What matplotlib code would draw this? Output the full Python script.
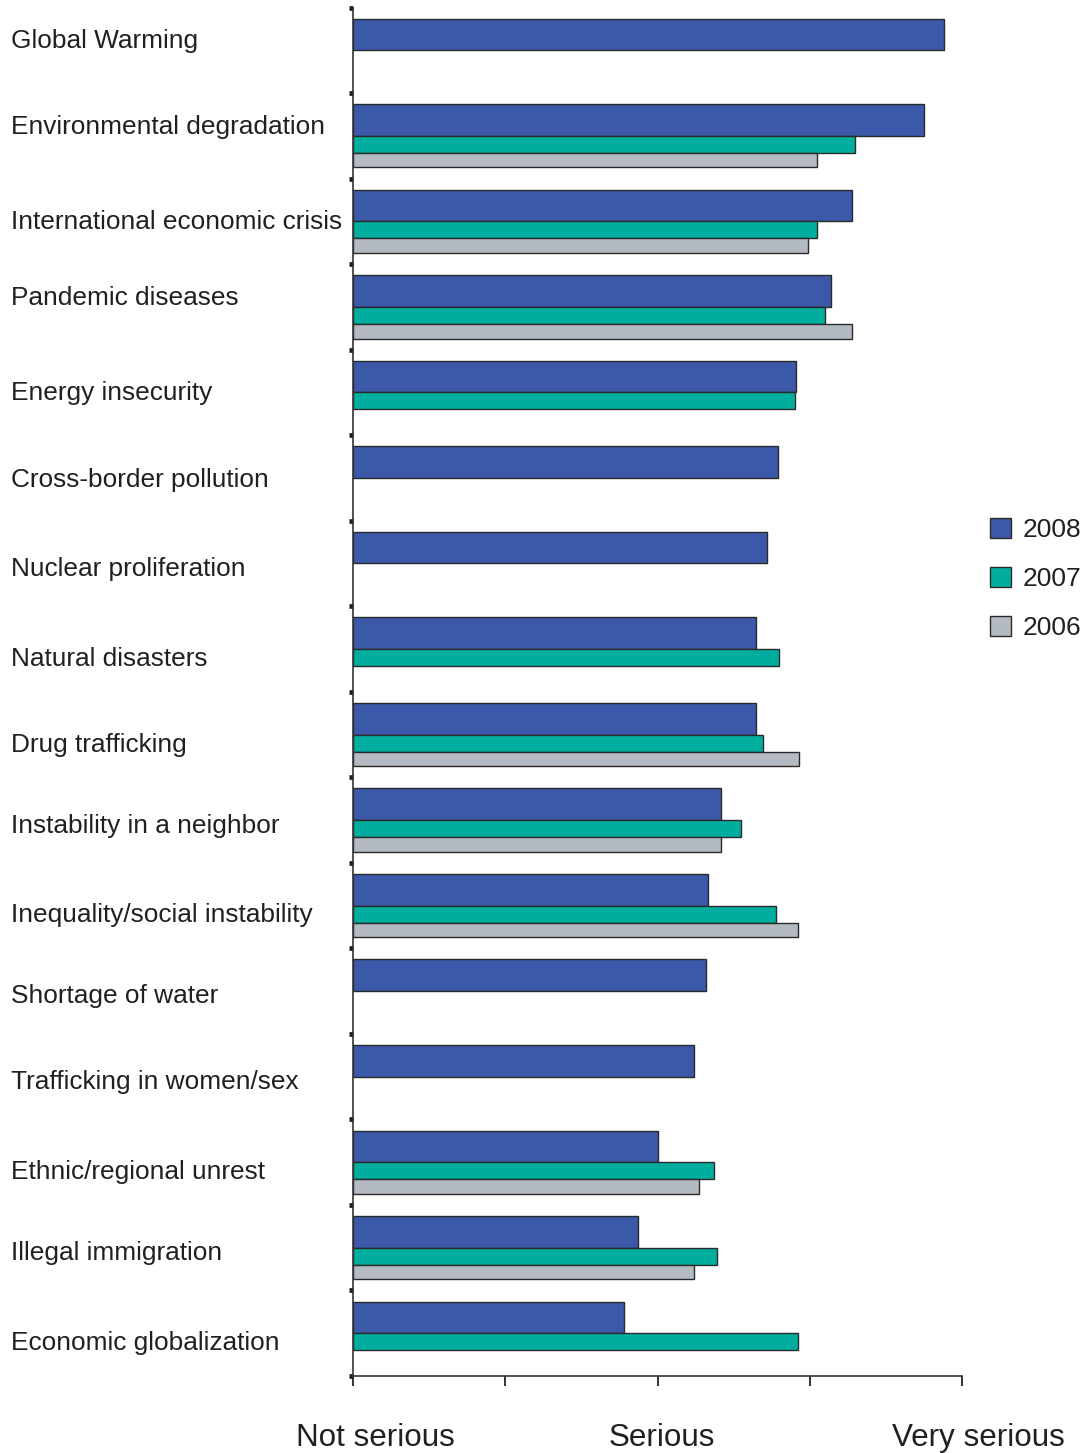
import numpy as np
import matplotlib
matplotlib.use("Agg")
import matplotlib.pyplot as plt
from matplotlib.transforms import blended_transform_factory

# ---- data -------------------------------------------------------------
categories = [
    "Global Warming",
    "Environmental degradation",
    "International economic crisis",
    "Pandemic diseases",
    "Energy insecurity",
    "Cross-border pollution",
    "Nuclear proliferation",
    "Natural disasters",
    "Drug trafficking",
    "Instability in a neighbor",
    "Inequality/social instability",
    "Shortage of water",
    "Trafficking in women/sex",
    "Ethnic/regional unrest",
    "Illegal immigration",
    "Economic globalization",
]
nan = np.nan
score_2008 = [4.88, 4.75, 4.28, 4.14, 3.91, 3.79, 3.72, 3.65,
              3.65, 3.42, 3.33, 3.32, 3.24, 3.00, 2.87, 2.78]
score_2007 = [nan, 4.30, 4.05, 4.10, 3.90, nan, nan, 3.80,
              3.69, 3.55, 3.78, nan, nan, 3.37, 3.39, 3.92]
score_2006 = [nan, 4.05, 3.99, 4.28, nan, nan, nan, nan,
              3.93, 3.42, 3.92, nan, nan, 3.27, 3.24, nan]
years = ["2008", "2007", "2006"]
scale_ticks = [1, 2, 3, 4, 5]
scale_labels = ["Not serious", "Serious", "Very serious"]

# ---- style / layout ---------------------------------------------------
colors = ["#3b59a8", "#00ae9f", "#b3bac1"]
edge = "#2a2a2a"
text_color = "#231f20"
bar_offsets = [0.13, 0.50, 0.70]
bar_heights = [0.37, 0.20, 0.17]
label_nudge = [-0.11, -0.10, 0.01, -0.10, 0.01, 0.02, 0.07, 0.12,
               0.12, 0.07, 0.11, 0.06, 0.06, 0.11, 0.06, 0.11]
scale_label_x = [1.15, 3.03, 5.11]

plt.rcParams["font.family"] = ["Liberation Sans", "DejaVu Sans"]

W, H = 1088, 1453
fig = plt.figure(figsize=(W / 100, H / 100), dpi=100)
ax = fig.add_axes([353 / W, 1 - 1376 / H, 609 / W, (1376 - 7.5) / H])

idx = np.arange(len(categories))
handles = []
for vals, col, off, h, yr in zip([score_2008, score_2007, score_2006],
                                 colors, bar_offsets, bar_heights, years):
    vals = np.asarray(vals, dtype=float)
    ok = ~np.isnan(vals)
    bc = ax.barh(idx[ok] + off, vals[ok] - 1, left=1, height=h, align="edge",
                 color=col, edgecolor=edge, linewidth=1.0, label=yr)
    handles.append(bc)

ax.set_xlim(1, 5)
ax.set_ylim(len(categories), 0)

for s in ("top", "right"):
    ax.spines[s].set_visible(False)
for s in ("left", "bottom"):
    ax.spines[s].set_color("#333333")
    ax.spines[s].set_linewidth(1.2)

ax.set_yticks(np.arange(len(categories) + 1))
ax.tick_params(axis="y", direction="out", length=3.2, width=3.4,
               color="#1e1e1e", labelleft=False)
ax.set_xticks(scale_ticks)
ax.tick_params(axis="x", direction="out", length=7, width=1.3, color="#222222",
               labelbottom=False)

# category names along the left edge
trans_lab = blended_transform_factory(fig.transFigure, ax.transData)
for i, name in enumerate(categories):
    ax.text(11 / W, i + 0.5 + label_nudge[i], name, transform=trans_lab,
            ha="left", va="center", fontsize=18.9, color=text_color)

# scale words under the axis
trans_scale = blended_transform_factory(ax.transData, fig.transFigure)
for x, lab in zip(scale_label_x, scale_labels):
    ax.text(x, 1 - 1438 / H, lab, transform=trans_scale, ha="center",
            va="center", fontsize=22.6, color=text_color, clip_on=False)

fig.legend(handles, years, loc="upper left",
           bbox_to_anchor=(990 / W, 1 - 518 / H), frameon=False,
           fontsize=19, handlelength=0.78, handleheight=0.78,
           handletextpad=0.45, labelspacing=0.95, borderpad=0,
           borderaxespad=0, labelcolor=text_color)

fig.savefig("out.png", dpi=100)
